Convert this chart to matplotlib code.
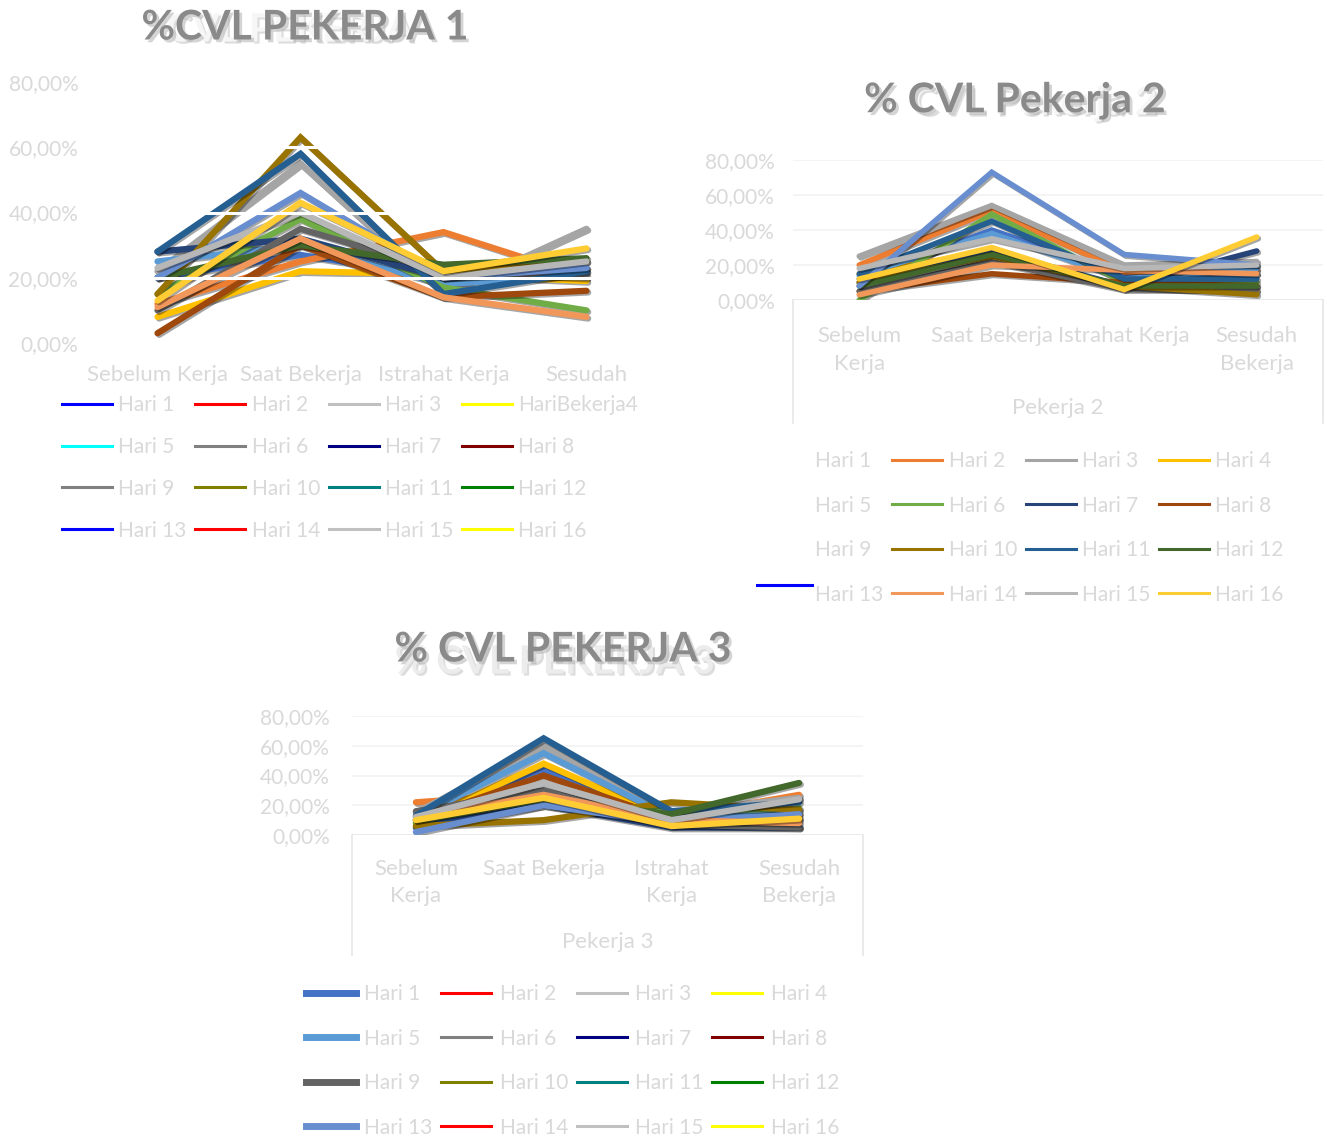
import matplotlib
matplotlib.use("Agg")
import matplotlib.pyplot as plt
import matplotlib.patheffects as pe
from matplotlib.lines import Line2D
from matplotlib.ticker import FuncFormatter

W, H = 1327, 1138

# data (% CVL), one row per day (Hari 1 .. Hari 16), columns = the 4 moments
p1_cats = ["Sebelum Kerja", "Saat Bekerja", "Istrahat Kerja", "Sesudah"]
p2_cats = ["Sebelum\nKerja", "Saat Bekerja", "Istrahat Kerja", "Sesudah\nBekerja"]
p3_cats = ["Sebelum\nKerja", "Saat Bekerja", "Istrahat\nKerja", "Sesudah\nBekerja"]

p1_values = [
    [20, 27, 20, 23], [12, 25, 34, 20], [22, 55, 15, 35], [8, 22, 21, 19],
    [25, 30, 18, 21], [15, 38, 17, 10], [28, 32, 20, 22], [3, 30, 14, 16],
    [10, 35, 22, 20], [15, 63, 22, 25], [28, 58, 15, 22], [20, 30, 24, 26],
    [20, 46, 20, 23], [11, 32, 14, 8], [23, 40, 20, 25], [13, 43, 22, 29],
]
p2_values = [
    [12, 40, 14, 15], [20, 51, 16, 17], [25, 54, 20, 22], [15, 28, 7, 5],
    [14, 38, 12, 18], [0, 49, 10, 10], [10, 28, 8, 28], [5, 15, 10, 8],
    [5, 22, 6, 6], [10, 25, 8, 3], [15, 45, 12, 12], [8, 26, 8, 8],
    [8, 73, 26, 20], [3, 20, 17, 15], [18, 35, 18, 20], [12, 30, 6, 36],
]
p3_values = [
    [10, 44, 8, 6], [22, 28, 12, 27], [15, 60, 15, 25], [8, 48, 10, 12],
    [12, 55, 12, 15], [8, 25, 16, 18], [5, 20, 5, 5], [10, 40, 10, 10],
    [16, 30, 7, 5], [6, 10, 22, 17], [13, 65, 16, 22], [10, 24, 14, 35],
    [2, 20, 8, 14], [12, 27, 10, 8], [12, 35, 10, 24], [10, 25, 6, 11],
]

p1_labels = ["Hari %d" % i for i in range(1, 17)]
p1_labels[3] = "HariBekerja4"
day_labels = ["Hari %d" % i for i in range(1, 17)]

office = ["#4472C4", "#ED7D31", "#A5A5A5", "#FFC000", "#5B9BD5", "#70AD47",
          "#264478", "#9E480E", "#636363", "#997300", "#255E91", "#43682B",
          "#698ED0", "#F1975A", "#B7B7B7", "#FFCD33"]
legend1_colors = ["#0000FF", "#FF0000", "#C0C0C0", "#FFFF00", "#00FFFF", "#808080",
                  "#000080", "#800000", "#808080", "#808000", "#008080", "#008000",
                  "#0000FF", "#FF0000", "#C0C0C0", "#FFFF00"]
legend2_colors = ["none", "#ED7D31", "#A5A5A5", "#FFC000", "none", "#70AD47",
                  "#264478", "#9E480E", "none", "#997300", "#255E91", "#43682B",
                  "none", "#F1975A", "#B7B7B7", "#FFCD33"]
legend3_colors = ["#4472C4", "#FF0000", "#C0C0C0", "#FFFF00", "#5B9BD5", "#808080",
                  "#000080", "#800000", "#636363", "#808000", "#008080", "#008000",
                  "#698ED0", "#FF0000", "#C0C0C0", "#FFFF00"]
legend3_widths = [5, 2.2, 2.2, 2.2] * 4

TXT = "#d9d9d9"
plt.rcParams["font.family"] = ["Lato", "DejaVu Sans"]

fig = plt.figure(figsize=(W / 100, H / 100), dpi=100)


def px_axes(x0, y0, x1, y1):
    return fig.add_axes([x0 / W, 1 - y1 / H, (x1 - x0) / W, (y1 - y0) / H])


def pct(v, _):
    return ("%.2f%%" % (v * 100)).replace(".", ",")


def draw_chart(ax, values, cats, lw, grid, xpad, ypad):
    xs = range(len(cats))
    for i, row in enumerate(values):
        ax.plot(xs, [v / 100 for v in row], color=office[i], lw=lw,
                solid_joinstyle="miter", solid_capstyle="round", zorder=3 + i * 0.01,
                path_effects=[pe.SimpleLineShadow(offset=(1.2, -1.2), alpha=0.35), pe.Normal()])
    ax.set_xlim(-0.5, len(cats) - 0.5)
    ax.set_ylim(0, 0.8)
    ax.set_yticks([0, 0.2, 0.4, 0.6, 0.8])
    ax.yaxis.set_major_formatter(FuncFormatter(pct))
    ax.set_xticks(list(xs))
    ax.set_xticklabels(cats)
    ax.tick_params(axis="x", length=0, colors=TXT, labelsize=16, pad=xpad)
    ax.tick_params(axis="y", length=0, colors=TXT, labelsize=15, pad=ypad)
    for t in ax.get_xticklabels():
        t.set_linespacing(1.45)
    for s in ax.spines.values():
        s.set_visible(False)
    if grid:
        for g in [0.2, 0.4, 0.6, 0.8]:
            ax.axhline(g, color="#f2f2f2", lw=1.2, zorder=1)
        ax.axhline(0, color="#e6e6e6", lw=1.2, zorder=1)


def title(x, y, text, ghost, gx, gy, ghost_color):
    fig.text(gx / W, 1 - gy / H, ghost, ha="center", va="center", fontsize=28,
             fontweight="bold", color=ghost_color, zorder=1,
             path_effects=[pe.withSimplePatchShadow(offset=(1.5, -1.5), shadow_rgbFace="#bbbbbb", alpha=0.5)])
    fig.text(x / W, 1 - y / H, text, ha="center", va="center", fontsize=29.5,
             fontweight="bold", color="#8a8a8a", zorder=2,
             path_effects=[pe.withSimplePatchShadow(offset=(2, -2), shadow_rgbFace="#aaaaaa", alpha=0.5)])


def legend(handles_colors, widths, labels, x, y, rowsp, textpad=0.3):
    handles = [Line2D([], [], color=c, lw=w) for c, w in zip(handles_colors, widths)]
    order = [r * 4 + c for c in range(4) for r in range(4)]
    leg = fig.legend([handles[k] for k in order], [labels[k] for k in order],
                     ncol=4, loc="upper left", bbox_to_anchor=(x / W, 1 - y / H),
                     frameon=False, fontsize=15, handlelength=2.4, handletextpad=textpad,
                     columnspacing=0.42, labelspacing=rowsp, borderpad=0, borderaxespad=0)
    for t in leg.get_texts():
        t.set_color(TXT)
    return leg


# chart 1
ax1 = px_axes(86, 82, 658, 343)
draw_chart(ax1, p1_values, p1_cats, 4.5, False, 16, 5.5)
for g in [0.2, 0.4, 0.6, 0.8]:
    ax1.axhline(g, color="white", lw=2.2, zorder=10)
title(305, 28, "%CVL PEKERJA 1", "CVL PEKERJA", 290, 30, "#f6f6f6")
legend(legend1_colors, [2.2] * 16, p1_labels, 62, 395, 1.05)

# chart 2
ax2 = px_axes(793, 160, 1323, 300)
draw_chart(ax2, p2_values, p2_cats, 4.0, True, 19, 13)
box_h = (423 - 300) / 140
for xb in [0, 1]:
    ax2.plot([xb, xb], [0, -box_h], transform=ax2.transAxes, color="#e6e6e6",
             lw=1.2, clip_on=False)
ax2.text(0.5, -(408 - 300) / 140, "Pekerja 2", transform=ax2.transAxes,
         ha="center", va="center", fontsize=16, color=TXT)
title(1015, 101, "% CVL Pekerja 2", "CVL Pekerja 2", 1035, 103, "#f6f6f6")
legend(legend2_colors, [2.2] * 16, day_labels, 759, 451, 1.18)
fig.add_artist(Line2D([757 / W, 812 / W], [1 - 585 / H, 1 - 585 / H], color="#0000FF", lw=2.2))

# chart 3
ax3 = px_axes(352, 716, 863, 835)
draw_chart(ax3, p3_values, p3_cats, 4.5, True, 17, 16)
box_h = (955 - 835) / 119
for xb in [0, 1]:
    ax3.plot([xb, xb], [0, -box_h], transform=ax3.transAxes, color="#e6e6e6",
             lw=1.2, clip_on=False)
ax3.text(0.5, -(942 - 835) / 119, "Pekerja 3", transform=ax3.transAxes,
         ha="center", va="center", fontsize=16, color=TXT)
title(563, 650, "% CVL PEKERJA 3", "% CVL PEKERJA 3", 555, 662, "#ececec")
legend(legend3_colors, legend3_widths, day_labels, 306, 984, 1.18, 0.4)

fig.savefig("out.png", dpi=100)
